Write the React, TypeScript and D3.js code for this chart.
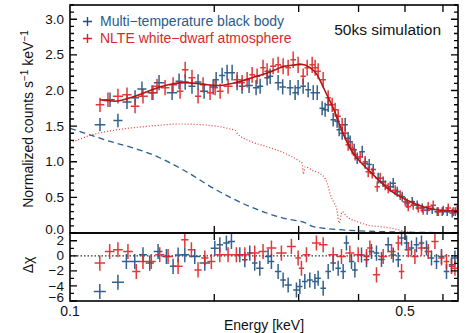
import React from "react";
import * as d3 from "d3";

// ---- data ----
const bbEnergy = [0.1155,0.1212,0.1259,0.1315,0.1367,0.1413,0.1483,0.1534,0.1633,0.1689,0.1739,0.1797,0.1850,0.1905,0.1989,0.2018,0.2077,0.2127,0.2179,0.2232,0.2286,0.2364,0.2445,0.2493,0.2578,0.2616,0.2718,0.2778,0.2879,0.2949,0.2992,0.3065,0.3140,0.3217,0.3280,0.3358,0.3407,0.3457,0.3541,0.3609,0.3644,0.3697,0.3751,0.3805,0.3842,0.3917,0.3974,0.4071,0.4130,0.4210,0.4292,0.4395,0.4502,0.4657,0.4725,0.4816,0.4933,0.5052,0.5176,0.5302,0.5431,0.5563,0.5698,0.5837,0.5979,0.6124,0.6273,0.6364];
const bbCounts = [1.52,1.87,1.58,1.84,1.90,2.02,1.97,2.11,1.97,2.13,2.12,2.06,2.12,1.99,2.05,2.15,2.21,2.25,2.25,2.11,2.06,2.07,2.04,2.06,2.18,2.20,2.11,2.05,2.04,1.97,2.04,2.06,2.01,1.97,1.97,1.75,1.73,1.80,1.59,1.57,1.45,1.40,1.52,1.33,1.28,1.17,1.05,1.14,0.98,0.96,0.89,0.77,0.72,0.65,0.70,0.58,0.51,0.42,0.44,0.39,0.35,0.32,0.33,0.30,0.30,0.30,0.28,0.30];

const nlteEnergy = [0.1155,0.1200,0.1259,0.1315,0.1367,0.1420,0.1490,0.1519,0.1579,0.1641,0.1697,0.1739,0.1797,0.1850,0.1895,0.1960,0.2008,0.2057,0.2137,0.2232,0.2286,0.2342,0.2399,0.2457,0.2528,0.2578,0.2653,0.2718,0.2784,0.2852,0.2922,0.2992,0.3065,0.3125,0.3201,0.3247,0.3294,0.3375,0.3457,0.3524,0.3575,0.3627,0.3697,0.3751,0.3805,0.3879,0.3936,0.4031,0.4130,0.4190,0.4271,0.4375,0.4438,0.4546,0.4612,0.4770,0.4886,0.5005,0.5078,0.5201,0.5328,0.5457,0.5590,0.5726,0.5866,0.6008,0.6154,0.6304,0.6426];
const nlteCounts = [1.80,1.87,1.92,1.94,1.78,1.92,1.97,2.06,2.04,2.08,1.99,2.29,2.18,1.92,2.08,1.97,2.04,1.99,2.06,2.15,2.11,2.15,2.22,2.20,2.32,2.27,2.34,2.36,2.34,2.32,2.43,2.36,2.20,2.32,2.36,2.32,2.27,2.15,1.90,1.80,1.73,1.64,1.52,1.40,1.24,1.19,1.10,1.07,1.00,0.86,0.84,0.65,0.77,0.67,0.63,0.60,0.53,0.44,0.37,0.39,0.35,0.32,0.37,0.39,0.30,0.32,0.35,0.30,0.32];

const modelEnergy = [0.1155,0.1241,0.1367,0.1483,0.1602,0.1739,0.1886,0.2037,0.2211,0.2399,0.2590,0.2811,0.2950,0.3021,0.3170,0.3280,0.3358,0.3435,0.3545,0.3662,0.3781,0.3879,0.4031,0.4230,0.4438,0.4657,0.4886,0.5201,0.5563,0.5922,0.6450];
const modelCounts = [1.87,1.85,1.92,2.01,2.08,2.11,2.09,2.07,2.11,2.18,2.25,2.34,2.36,2.37,2.32,2.22,2.08,1.94,1.75,1.50,1.28,1.14,1.00,0.86,0.72,0.60,0.51,0.42,0.35,0.32,0.31];

const wdCompEnergy = [0.1000,0.1101,0.1259,0.1469,0.1697,0.1960,0.2158,0.2211,0.2232,0.2375,0.2578,0.2784,0.2992,0.3050,0.3068,0.3095,0.3200,0.3375,0.3440,0.3490,0.3545,0.3604,0.3644,0.3697,0.3781,0.3974,0.4190,0.4560,0.4886,0.5126,0.5379];
const wdCompCounts = [1.26,1.37,1.45,1.50,1.53,1.51,1.46,1.44,1.40,1.29,1.21,1.13,1.02,0.98,0.83,0.93,0.88,0.80,0.70,0.55,0.44,0.33,0.14,0.30,0.23,0.16,0.11,0.08,0.04,0.01,0.0];

const bbCompEnergy = [0.1000,0.1155,0.1534,0.1739,0.2025,0.2375,0.2784,0.3115,0.3217,0.3781,0.4438,0.5201,0.6450];
const bbCompCounts = [1.47,1.33,1.06,0.87,0.60,0.37,0.21,0.135,0.09,0.04,0.02,0.01,0.005];

const bbResEnergy = [0.1154,0.1259,0.1311,0.1365,0.1420,0.1467,0.1527,0.1589,0.1641,0.1681,0.1736,0.1821,0.1911,0.2005,0.2054,0.2120,0.2172,0.2261,0.2316,0.2372,0.2429,0.2489,0.2590,0.2632,0.2718,0.2784,0.2852,0.2968,0.3017,0.3090,0.3165,0.3243,0.3294,0.3375,0.3457,0.3541,0.3627,0.3715,0.3774,0.3867,0.3930,0.4057,0.4156,0.4256,0.4360,0.4466,0.4612,0.4725,0.4840,0.4918,0.5037,0.5159,0.5284,0.5412,0.5544,0.5679,0.5817,0.5958,0.6103,0.6252,0.6355];
const bbResid = [-4.75,-3.5,-0.75,-0.75,0.13,-0.97,0.58,-0.09,-1.4,0.1,0.13,-0.1,-0.97,1.0,1.47,1.69,1.91,0.13,-0.53,0.36,-0.97,-1.64,-0.1,-0.75,-2.08,-3.2,-3.87,-4.53,-4.08,-3.41,-3.2,-3.41,-2.97,-4.3,-2.08,-0.97,-1.64,-2.08,1.69,-0.75,-1.87,0.1,-0.53,0.58,0.36,-0.5,1.47,0.1,-0.53,2.36,1.69,1.03,1.47,1.69,1.03,-0.3,-0.75,-0.1,-2.08,-1.2,-0.3];

const nlteResEnergy = [0.1154,0.1210,0.1259,0.1321,0.1375,0.1420,0.1478,0.1539,0.1602,0.1681,0.1736,0.1792,0.1850,0.1911,0.1972,0.2054,0.2137,0.2224,0.2316,0.2429,0.2528,0.2632,0.2761,0.2897,0.2992,0.3040,0.3114,0.3267,0.3375,0.3541,0.3685,0.3836,0.3993,0.4156,0.4224,0.4360,0.4502,0.4687,0.4840,0.4918,0.5078,0.5244,0.5412,0.5590,0.5773,0.5958,0.6103,0.6252,0.6355];
const nlteResid = [-0.97,0.58,0.8,0.58,-2.08,-0.75,-0.75,0.13,-0.1,-1.4,2.14,0.8,-1.87,-0.3,-0.75,0.13,0.13,0.13,0.13,0.36,0.58,1.03,0.36,1.25,-0.3,-1.64,0.13,1.69,1.47,0.13,-0.1,0.36,0.13,-0.1,1.03,-2.53,-0.1,0.58,1.69,-2.08,0.8,-0.1,1.03,0.58,1.91,-0.3,-0.75,-1.4,-1.64];

const countMajorTicks = [0, 0.5, 1.0, 1.5, 2.0, 2.5, 3.0];
const residMajorTicks = [-6, -4, -2, 0, 2];
const energyTicks = [0.2, 0.3, 0.4, 0.5, 0.6];
const energyLabels = [0.1, 0.5];
const legendLabels = ["Multi\u2212temperature black body", "NLTE white\u2212dwarf atmosphere"];

// ---- style ----
const BLUE = "#1d4f80";
const RED = "#dc2323";
const MODEL = "#b31414";
const FONT = "'Liberation Sans', Arial, Helvetica, sans-serif";

const W = 471, H = 333;
const L = 70, R = 458, T = 5, MID = 233, B = 301;

const fmtMinus = (v: number, digits: number) => {
  const s = Math.abs(v).toFixed(digits);
  return v < 0 ? "\u2212" + s : s;
};

export default function App() {
  const x = d3.scaleLog().domain([0.1, 0.645]).range([L, R]);
  const yTop = d3.scaleLinear().domain([0, 3.2]).range([MID, T]);
  const yRes = d3.scaleLinear().domain([-6, 3.03]).range([B, MID]);

  const halfW = (E: number[]) =>
    E.map((e, i) => {
      const px = x(e);
      const l = i > 0 ? px - x(E[i - 1]) : x(E[i + 1]) - px;
      const r = i < E.length - 1 ? x(E[i + 1]) - px : l;
      return Math.max(2.7, Math.min(6, (l + r) / 4 + 0.3));
    });

  const crossPath = (E: number[], V: number[], yS: any, errFn: (v: number) => number) => {
    const hw = halfW(E);
    return E.map((e, i) => {
      const px = x(e);
      const py = yS(V[i]);
      const err = errFn(V[i]);
      const y0 = yS(V[i] - err);
      const y1 = yS(V[i] + err);
      return `M${px - hw[i]},${py}H${px + hw[i]}M${px},${y1}V${y0}`;
    }).join("");
  };

  const topErr = (v: number) => 0.055 + 0.025 * v;
  const resErr = () => 1;

  const line = (E: number[], V: number[]) =>
    d3.line<number>().x((_, i) => x(E[i])).y((_, i) => yTop(V[i])).curve(d3.curveMonotoneX)(E as any) || "";

  const countMinor = d3.range(0, 3.21, 0.1);
  const residMinor = d3.range(-6, 3.01, 1);

  let tickPath = "";
  countMinor.forEach((v) => {
    const major = countMajorTicks.some((m) => Math.abs(m - v) < 1e-6);
    const len = major ? 7 : 4;
    const py = yTop(v);
    tickPath += `M${L},${py}H${L + len}M${R},${py}H${R - len}`;
  });
  residMinor.forEach((v) => {
    const major = residMajorTicks.includes(Math.round(v)) && Math.abs(v - Math.round(v)) < 1e-6;
    const len = major ? 7 : 4;
    const py = yRes(v);
    tickPath += `M${L},${py}H${L + len}M${R},${py}H${R - len}`;
  });
  energyTicks.forEach((e) => {
    const px = x(e);
    tickPath += `M${px},${T}V${T + 7}M${px},${MID - 7}V${MID + 7}M${px},${B}V${B - 7}`;
  });

  return (
    <svg width={W} height={H} style={{ position: "absolute", left: 0, top: 0, background: "#fff" }} fontFamily={FONT}>
      <defs>
        <clipPath id="clipTop"><rect x={L} y={T} width={R - L} height={MID - T} /></clipPath>
        <clipPath id="clipRes"><rect x={L} y={MID} width={R - L} height={B - MID} /></clipPath>
      </defs>
      <rect x={0} y={0} width={W} height={H} fill="#fff" />

      {/* top panel */}
      <g clipPath="url(#clipTop)">
        <path d={line(bbCompEnergy, bbCompCounts)} fill="none" stroke="#2a5d90" strokeWidth={1.3} strokeDasharray="6,4" />
        <path d={line(wdCompEnergy, wdCompCounts)} fill="none" stroke="#e03a3a" strokeWidth={1.2} strokeDasharray="1,2" />
        <path d={crossPath(bbEnergy, bbCounts, yTop, topErr)} fill="none" stroke={BLUE} strokeWidth={1.5} strokeOpacity={0.9} />
        <path d={crossPath(nlteEnergy, nlteCounts, yTop, topErr)} fill="none" stroke={RED} strokeWidth={1.5} strokeOpacity={0.9} />
        <path d={line(modelEnergy, modelCounts)} fill="none" stroke={MODEL} strokeWidth={1.6} />
      </g>

      {/* residual panel */}
      <g clipPath="url(#clipRes)">
        <line x1={L} x2={R} y1={yRes(0)} y2={yRes(0)} stroke="#333" strokeWidth={1.2} strokeDasharray="1.5,2" />
        <path d={crossPath(bbResEnergy, bbResid, yRes, resErr)} fill="none" stroke={BLUE} strokeWidth={1.5} strokeOpacity={0.9} />
        <path d={crossPath(nlteResEnergy, nlteResid, yRes, resErr)} fill="none" stroke={RED} strokeWidth={1.5} strokeOpacity={0.9} />
      </g>

      {/* frames and ticks */}
      <rect x={L} y={T} width={R - L} height={MID - T} fill="none" stroke="#000" strokeWidth={1.6} />
      <rect x={L} y={MID} width={R - L} height={B - MID} fill="none" stroke="#000" strokeWidth={1.6} />
      <path d={tickPath} stroke="#000" strokeWidth={1.3} fill="none" />

      {/* tick labels */}
      {countMajorTicks.map((v) => (
        <text key={"c" + v} x={64} y={yTop(v) - (v === 0 ? 4 : 0)} dy="0.34em" textAnchor="end" fontSize={13.5} fill="#111">
          {v.toFixed(1)}
        </text>
      ))}
      {residMajorTicks.map((v) => (
        <text key={"r" + v} x={64} y={yRes(v) - (v === -6 ? 4 : 0)} dy="0.34em" textAnchor="end" fontSize={13.5} fill="#111">
          {fmtMinus(v, 0)}
        </text>
      ))}
      {energyLabels.map((e) => (
        <text key={"e" + e} x={x(e)} y={316} textAnchor="middle" fontSize={14} fill="#111">
          {e.toString()}
        </text>
      ))}

      {/* axis titles */}
      <text x={(L + R) / 2} y={330} textAnchor="middle" fontSize={14} fill="#111">Energy [keV]</text>
      <text transform={`translate(33,${(T + MID) / 2}) rotate(-90)`} textAnchor="middle" fontSize={14} fill="#111">
        Normalized counts s<tspan dy={-5} fontSize={10}>{"\u22121"}</tspan>
        <tspan dy={5}> keV</tspan>
        <tspan dy={-5} fontSize={10}>{"\u22121"}</tspan>
      </text>
      <text transform={`translate(33,265) rotate(-90)`} textAnchor="middle" fontSize={14} fill="#111">Δχ</text>

      {/* legend */}
      <path d="M83,21.5H92M87.5,17V26" stroke={BLUE} strokeWidth={1.4} />
      <text x={100} y={26} fontSize={14} fill="#2a5b8c">{legendLabels[0]}</text>
      <path d="M83,38.5H92M87.5,34V43" stroke={RED} strokeWidth={1.4} />
      <text x={100} y={43} fontSize={14} fill="#d82a2a">{legendLabels[1]}</text>
      <text x={441} y={35} textAnchor="end" fontSize={15.5} fill="#111">50ks simulation</text>
    </svg>
  );
}
